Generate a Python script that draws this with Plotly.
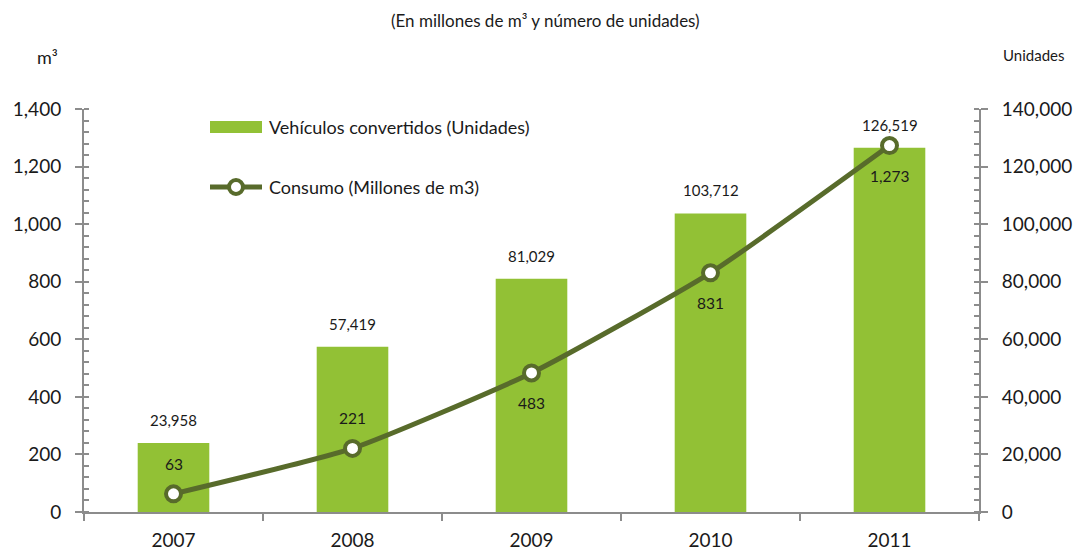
import plotly.graph_objects as go

years = ["2007", "2008", "2009", "2010", "2011"]
vehiculos = [23958, 57419, 81029, 103712, 126519]
consumo = [63, 221, 483, 831, 1273]
consumo_label_pos = ["above", "above", "below", "below", "below"]

left_ticks = [0, 200, 400, 600, 800, 1000, 1200, 1400]
right_ticks = [0, 20000, 40000, 60000, 80000, 100000, 120000, 140000]

BAR = "#92C135"
LINE = "#586B2B"
AXIS = "#8C8C8C"
TXT = "#1a1a1a"
FONT = "Lato"

L, R, T, B = 84, 100, 109, 38
W, H = 1079, 550
PW, PH = W - L - R, H - T - B


def px(xp):
    return (xp - L) / PW


def py(yp):
    return (H - B - yp) / PH


fig = go.Figure()

fig.add_trace(go.Bar(
    x=years, y=vehiculos, marker=dict(color=BAR, line=dict(width=0)),
    width=0.4, yaxis="y", showlegend=False, hoverinfo="skip"))

fig.add_trace(go.Scatter(
    x=years, y=consumo, yaxis="y2", mode="lines+markers",
    line=dict(color=LINE, width=5, shape="spline", smoothing=0.5),
    marker=dict(size=15, color="white", line=dict(color=LINE, width=4)),
    showlegend=False, hoverinfo="skip"))

annotations = []
for i, v in enumerate(vehiculos):
    annotations.append(dict(x=i, y=v, xref="x", yref="y", text=f"{v:,}",
                            showarrow=False, yanchor="bottom", yshift=12,
                            font=dict(family=FONT, size=15, color=TXT)))
for i, (v, pos) in enumerate(zip(consumo, consumo_label_pos)):
    shift = 30 if pos == "above" else -30
    annotations.append(dict(x=i, y=v, xref="x", yref="y2", text=f"{v:,}",
                            showarrow=False, yanchor="middle", yshift=shift,
                            font=dict(family=FONT, size=15.5, color=TXT)))

annotations += [
    dict(x=px(545), y=py(20), xref="paper", yref="paper",
         text="(En millones de m³ y número de unidades)",
         showarrow=False, xanchor="center", yanchor="middle",
         font=dict(family=FONT, size=17, color=TXT)),
    dict(x=px(47), y=py(57), xref="paper", yref="paper", text="m³",
         showarrow=False, xanchor="center", yanchor="middle",
         font=dict(family=FONT, size=18, color=TXT)),
    dict(x=px(1033), y=py(55), xref="paper", yref="paper", text="Unidades",
         showarrow=False, xanchor="center", yanchor="middle",
         font=dict(family=FONT, size=15, color=TXT)),
    dict(x=px(267), y=py(127), xref="paper", yref="paper",
         text="Vehículos convertidos (Unidades)", showarrow=False,
         xanchor="left", yanchor="middle", font=dict(family=FONT, size=18, color=TXT)),
    dict(x=px(267), y=py(187), xref="paper", yref="paper",
         text="Consumo (Millones de m3)", showarrow=False,
         xanchor="left", yanchor="middle", font=dict(family=FONT, size=18, color=TXT)),
]

fig.update_layout(
    width=W, height=H,
    margin=dict(l=L, r=R, t=T, b=B),
    paper_bgcolor="white", plot_bgcolor="white",
    font=dict(family=FONT, color=TXT),
    xaxis=dict(type="category", categoryorder="array", categoryarray=years,
               range=[-0.5, len(years) - 0.5], automargin=False,
               showline=True, linecolor=AXIS, linewidth=2,
               ticks="outside", ticklen=7, tickcolor=AXIS, tickwidth=2,
               tickson="boundaries", ticklabelstandoff=10, tickangle=0,
               tickfont=dict(size=19, family=FONT, color=TXT), showgrid=False),
    yaxis=dict(side="right", range=[0, 140000], tickvals=right_ticks,
               ticktext=[f"{t:,}" for t in right_ticks], automargin=False,
               showline=True, linecolor=AXIS, linewidth=2, showgrid=False, zeroline=False,
               ticks="outside", ticklen=7, tickcolor=AXIS, tickwidth=2,
               ticklabelstandoff=10,
               minor=dict(ticks="inside", dtick=4000, ticklen=5, tickcolor=AXIS, tickwidth=2),
               tickfont=dict(size=19, family=FONT, color=TXT)),
    yaxis2=dict(side="left", overlaying="y", range=[0, 1400], tickvals=left_ticks,
                ticktext=[f"{t:,}" for t in left_ticks], automargin=False,
                showline=True, linecolor=AXIS, linewidth=2, showgrid=False, zeroline=False,
                ticks="outside", ticklen=7, tickcolor=AXIS, tickwidth=2,
                ticklabelstandoff=10,
                minor=dict(ticks="inside", dtick=40, ticklen=5, tickcolor=AXIS, tickwidth=2),
                tickfont=dict(size=19, family=FONT, color=TXT)),
    annotations=annotations,
    shapes=[
        dict(type="rect", xref="paper", yref="paper", x0=px(210), x1=px(262),
             y0=py(133), y1=py(121), fillcolor=BAR, line=dict(width=0)),
        dict(type="line", xref="paper", yref="paper", x0=px(210), x1=px(262),
             y0=py(187), y1=py(187), line=dict(color=LINE, width=5)),
        dict(type="circle", xref="paper", yref="paper", x0=px(229), x1=px(243),
             y0=py(194), y1=py(180), fillcolor="white", line=dict(color=LINE, width=4)),
    ],
)

fig.write_html("out.html", config={"displayModeBar": False},
               post_script="document.body.style.margin='0';document.body.style.overflow='hidden';")
